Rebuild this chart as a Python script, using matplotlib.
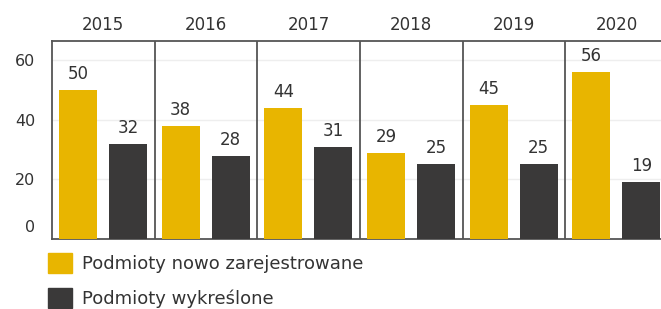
import numpy as np
import matplotlib
matplotlib.use("Agg")
import matplotlib.pyplot as plt
import matplotlib.transforms as mtransforms
from matplotlib.patches import Patch

years = ["2015", "2016", "2017", "2018", "2019", "2020"]
registered = [50, 38, 44, 29, 45, 56]
removed = [32, 28, 31, 25, 25, 19]
labels = ["Podmioty nowo zarejestrowane", "Podmioty wykreślone"]

yellow = "#e8b500"
dark = "#3a3939"
line_c = "#555555"
text_c = "#333333"

plt.rcParams['font.family'] = ['DejaVu Sans']

fig = plt.figure(figsize=(6.61, 3.09), dpi=100)
ax = fig.add_axes([52 / 661, 1 - 239 / 309, 616 / 661, 198 / 309])

x = np.arange(len(years))
w = 0.37
ax.bar(x + 0.253, registered, w, color=yellow, zorder=3)
ax.bar(x + 0.74, removed, w, color=dark, zorder=3)

for i in range(len(years)):
    ax.annotate(str(registered[i]), (x[i] + 0.253, registered[i]), xytext=(0, 16),
                textcoords="offset pixels", ha="center", va="center",
                fontsize=12, color=text_c)
    ax.annotate(str(removed[i]), (x[i] + 0.74, removed[i]), xytext=(0, 16),
                textcoords="offset pixels", ha="center", va="center",
                fontsize=12, color=text_c)

for i in range(1, len(years)):
    ax.axvline(i, color=line_c, lw=1.3, zorder=4)

ax.set_xlim(0, len(years))
ax.set_ylim(0, 66.4)

ax.set_yticks([0, 20, 40, 60])
ax.set_yticklabels(["0", "20", "40", "60"])
ax.yaxis.grid(True, color="#eeeeee", lw=1, zorder=0)
ax.tick_params(axis="y", length=0, pad=12, labelsize=11.5, labelcolor=text_c)
zero_lbl = ax.get_yticklabels()[0]
zero_lbl.set_transform(zero_lbl.get_transform() +
                       mtransforms.ScaledTranslation(0, 13 / 100, fig.dpi_scale_trans))

ax.set_xticks(x + 0.5)
ax.set_xticklabels(years)
ax.xaxis.tick_top()
ax.tick_params(axis="x", length=0, pad=5, labelsize=12, labelcolor=text_c)

for s in ["top", "bottom", "left"]:
    ax.spines[s].set_color(line_c)
    ax.spines[s].set_linewidth(1.3)
ax.spines["right"].set_visible(False)

handles = [Patch(color=yellow), Patch(color=dark)]
fig.legend(handles, labels, loc="upper left", bbox_to_anchor=(48 / 661, 1 - 253 / 309),
           frameon=False, fontsize=13, handlelength=1.33, handleheight=1.33,
           handletextpad=0.55, labelspacing=0.85, borderaxespad=0, borderpad=0,
           labelcolor=text_c)

fig.savefig("out.png", dpi=100)
